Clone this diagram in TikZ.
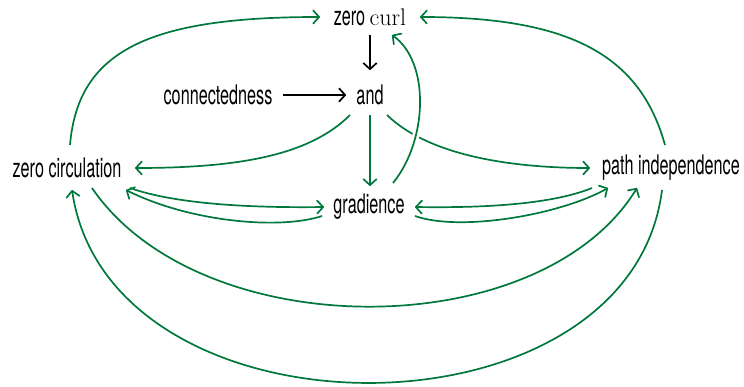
\documentclass[tikz,border=0pt]{standalone}
\usepackage{fontspec}
\setmainfont{TeX Gyre Heros}[FakeStretch=0.6]
\newfontfamily\lmfont{Latin Modern Roman}
\usetikzlibrary{arrows.meta,calc}
\definecolor{dgreen}{RGB}{0,120,60}
\begin{document}
\begin{tikzpicture}[x=1pt,y=-1pt,
  lbl/.style={inner sep=0pt, font=\fontsize{27}{31}\selectfont, text=black},
  tip/.style={-{Straight Barb[length=6pt,width=13pt,line width=1.7pt,round]}},
  blk/.style={draw=black, line width=1.7pt, tip},
  grn/.style={draw=dgreen, line width=1.7pt, tip}]
\useasboundingbox (0,0) rectangle (744,387);
\node[lbl] (curl) at (370,17) {zero {\lmfont\fontsize{24}{28}\selectfont curl}};
\node[lbl] (and) at (370,95) {and};
\node[lbl] (conn) at (218,95) {connectedness};
\node[lbl] (zc) at (67,168) {zero circulation};
\node[lbl] (grad) at (369,207) {gradience};
\node[lbl] (pi) at (671,168) {path independence};
% black arrows
\draw[blk] ($(curl)+(0,18)$) -- ($(and)+(0,-25)$);
\draw[blk] ($(conn)+(65,0)$) -- ($(and)+(-24,0)$);
% and -> ...
\draw[grn] ($(and)+(-20,20)$) .. controls (310,155) and (240,168) .. ($(zc)+(68,0)$);
\draw[grn] ($(and)+(0,20)$) -- ($(grad)+(1,-21)$);
\draw[grn] ($(and)+(17,20)$) .. controls (425,152) and (500,168) .. ($(pi)+(-81,0)$);
% gradience -> zero curl
\draw[grn, preaction={draw=white, line width=7pt, -}] ($(grad)+(24,-24)$) .. controls (428,140) and (430,62) .. ($(curl)+(22,18)$);
% to zero curl
\draw[grn] ($(zc)+(3,-23)$) .. controls (78,50) and (150,17) .. ($(curl)+(-50,0)$);
\draw[grn] ($(pi)+(-6,-23)$) .. controls (640,55) and (570,17) .. ($(curl)+(50,0)$);
% zc <-> gradience
\draw[grn] ($(zc)+(63,20)$) .. controls (175,204) and (250,208) .. ($(grad)+(-45,0)$);
\draw[grn] ($(grad)+(-47,9)$) .. controls (280,230) and (190,222) .. ($(zc)+(59,22)$);
% pi <-> gradience
\draw[grn] ($(pi)+(-79,20)$) .. controls (550,205) and (480,208) .. ($(grad)+(46,0)$);
\draw[grn] ($(grad)+(46,9)$) .. controls (460,232) and (560,215) .. ($(pi)+(-63,20)$);
% big curves
\draw[grn] ($(zc)+(25,20)$) .. controls (200,346) and (540,346) .. ($(pi)+(-34,20)$);
\draw[grn] ($(pi)+(-9,22)$) .. controls (630,447) and (110,447) .. ($(zc)+(5,22)$);
\end{tikzpicture}
\end{document}
